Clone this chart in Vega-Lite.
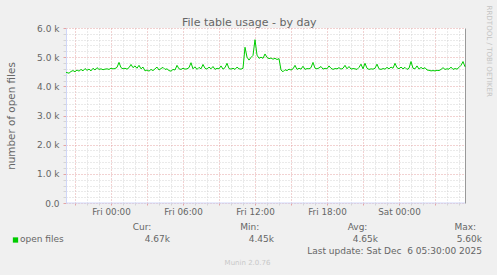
{
  "$schema": "https://vega.github.io/schema/vega-lite/v6.json",
  "background": "#f0f0f0",
  "padding": {"left": 6, "top": 4, "right": 10, "bottom": 10},
  "config": {"view": {"stroke": null}, "font": "DejaVu Sans"},
  "title": {"text": "File table usage - by day", "font": "DejaVu Sans", "fontSize": 11, "fontWeight": "normal", "color": "#666666", "anchor": "middle", "frame": "bounds", "offset": -23},
  "datasets": {
    "files": [
      {"t": "2025-12-04T20:15", "v": 4480}, {"t": "2025-12-04T20:20", "v": 4470}, {"t": "2025-12-04T20:30", "v": 4450}, {"t": "2025-12-04T20:40", "v": 4510}, {"t": "2025-12-04T20:50", "v": 4540},
      {"t": "2025-12-04T21:00", "v": 4500}, {"t": "2025-12-04T21:10", "v": 4560}, {"t": "2025-12-04T21:20", "v": 4520}, {"t": "2025-12-04T21:30", "v": 4580}, {"t": "2025-12-04T21:40", "v": 4530}, {"t": "2025-12-04T21:50", "v": 4610},
      {"t": "2025-12-04T22:00", "v": 4550}, {"t": "2025-12-04T22:10", "v": 4590}, {"t": "2025-12-04T22:20", "v": 4530}, {"t": "2025-12-04T22:30", "v": 4620}, {"t": "2025-12-04T22:40", "v": 4560}, {"t": "2025-12-04T22:50", "v": 4640},
      {"t": "2025-12-04T23:00", "v": 4580}, {"t": "2025-12-04T23:10", "v": 4600}, {"t": "2025-12-04T23:20", "v": 4570}, {"t": "2025-12-04T23:30", "v": 4590}, {"t": "2025-12-04T23:40", "v": 4600}, {"t": "2025-12-04T23:50", "v": 4580},
      {"t": "2025-12-05T00:00", "v": 4620}, {"t": "2025-12-05T00:10", "v": 4600}, {"t": "2025-12-05T00:20", "v": 4610}, {"t": "2025-12-05T00:30", "v": 4650}, {"t": "2025-12-05T00:40", "v": 4820}, {"t": "2025-12-05T00:50", "v": 4640},
      {"t": "2025-12-05T01:00", "v": 4600}, {"t": "2025-12-05T01:10", "v": 4620}, {"t": "2025-12-05T01:20", "v": 4590}, {"t": "2025-12-05T01:30", "v": 4640}, {"t": "2025-12-05T01:40", "v": 4750}, {"t": "2025-12-05T01:50", "v": 4640},
      {"t": "2025-12-05T02:00", "v": 4700}, {"t": "2025-12-05T02:10", "v": 4620}, {"t": "2025-12-05T02:20", "v": 4720}, {"t": "2025-12-05T02:30", "v": 4600}, {"t": "2025-12-05T02:40", "v": 4660}, {"t": "2025-12-05T02:50", "v": 4530},
      {"t": "2025-12-05T03:00", "v": 4560}, {"t": "2025-12-05T03:10", "v": 4520}, {"t": "2025-12-05T03:20", "v": 4580}, {"t": "2025-12-05T03:30", "v": 4540}, {"t": "2025-12-05T03:40", "v": 4600}, {"t": "2025-12-05T03:50", "v": 4660},
      {"t": "2025-12-05T04:00", "v": 4560}, {"t": "2025-12-05T04:10", "v": 4610}, {"t": "2025-12-05T04:20", "v": 4650}, {"t": "2025-12-05T04:30", "v": 4580}, {"t": "2025-12-05T04:40", "v": 4600}, {"t": "2025-12-05T04:50", "v": 4540},
      {"t": "2025-12-05T05:00", "v": 4520}, {"t": "2025-12-05T05:10", "v": 4580}, {"t": "2025-12-05T05:20", "v": 4560}, {"t": "2025-12-05T05:30", "v": 4720}, {"t": "2025-12-05T05:40", "v": 4600}, {"t": "2025-12-05T05:50", "v": 4580},
      {"t": "2025-12-05T06:00", "v": 4620}, {"t": "2025-12-05T06:10", "v": 4590}, {"t": "2025-12-05T06:20", "v": 4600}, {"t": "2025-12-05T06:30", "v": 4640}, {"t": "2025-12-05T06:40", "v": 4810}, {"t": "2025-12-05T06:50", "v": 4600},
      {"t": "2025-12-05T07:00", "v": 4670}, {"t": "2025-12-05T07:10", "v": 4580}, {"t": "2025-12-05T07:20", "v": 4650}, {"t": "2025-12-05T07:30", "v": 4600}, {"t": "2025-12-05T07:40", "v": 4750}, {"t": "2025-12-05T07:50", "v": 4620},
      {"t": "2025-12-05T08:00", "v": 4590}, {"t": "2025-12-05T08:10", "v": 4660}, {"t": "2025-12-05T08:20", "v": 4600}, {"t": "2025-12-05T08:30", "v": 4680}, {"t": "2025-12-05T08:40", "v": 4580}, {"t": "2025-12-05T08:50", "v": 4620},
      {"t": "2025-12-05T09:00", "v": 4600}, {"t": "2025-12-05T09:10", "v": 4700}, {"t": "2025-12-05T09:20", "v": 4590}, {"t": "2025-12-05T09:30", "v": 4640}, {"t": "2025-12-05T09:40", "v": 4790}, {"t": "2025-12-05T09:50", "v": 4610},
      {"t": "2025-12-05T10:00", "v": 4590}, {"t": "2025-12-05T10:10", "v": 4620}, {"t": "2025-12-05T10:20", "v": 4580}, {"t": "2025-12-05T10:30", "v": 4660}, {"t": "2025-12-05T10:40", "v": 4600}, {"t": "2025-12-05T10:50", "v": 4590},
      {"t": "2025-12-05T11:00", "v": 4620}, {"t": "2025-12-05T11:10", "v": 5340}, {"t": "2025-12-05T11:20", "v": 5000}, {"t": "2025-12-05T11:30", "v": 4900}, {"t": "2025-12-05T11:40", "v": 4990}, {"t": "2025-12-05T11:50", "v": 5060},
      {"t": "2025-12-05T12:00", "v": 5600}, {"t": "2025-12-05T12:10", "v": 5070}, {"t": "2025-12-05T12:20", "v": 4960}, {"t": "2025-12-05T12:30", "v": 5000}, {"t": "2025-12-05T12:40", "v": 4960}, {"t": "2025-12-05T12:50", "v": 5110},
      {"t": "2025-12-05T13:00", "v": 4990}, {"t": "2025-12-05T13:10", "v": 4950}, {"t": "2025-12-05T13:20", "v": 4970}, {"t": "2025-12-05T13:30", "v": 4930}, {"t": "2025-12-05T13:40", "v": 4960}, {"t": "2025-12-05T13:50", "v": 4920},
      {"t": "2025-12-05T14:00", "v": 4950}, {"t": "2025-12-05T14:10", "v": 4560}, {"t": "2025-12-05T14:20", "v": 4500}, {"t": "2025-12-05T14:30", "v": 4570}, {"t": "2025-12-05T14:40", "v": 4540}, {"t": "2025-12-05T14:50", "v": 4590},
      {"t": "2025-12-05T15:00", "v": 4560}, {"t": "2025-12-05T15:10", "v": 4600}, {"t": "2025-12-05T15:20", "v": 4720}, {"t": "2025-12-05T15:30", "v": 4580}, {"t": "2025-12-05T15:40", "v": 4620}, {"t": "2025-12-05T15:50", "v": 4590},
      {"t": "2025-12-05T16:00", "v": 4690}, {"t": "2025-12-05T16:10", "v": 4580}, {"t": "2025-12-05T16:20", "v": 4610}, {"t": "2025-12-05T16:30", "v": 4600}, {"t": "2025-12-05T16:40", "v": 4640}, {"t": "2025-12-05T16:50", "v": 4820},
      {"t": "2025-12-05T17:00", "v": 4620}, {"t": "2025-12-05T17:10", "v": 4600}, {"t": "2025-12-05T17:20", "v": 4630}, {"t": "2025-12-05T17:30", "v": 4680}, {"t": "2025-12-05T17:40", "v": 4590}, {"t": "2025-12-05T17:50", "v": 4620},
      {"t": "2025-12-05T18:00", "v": 4600}, {"t": "2025-12-05T18:10", "v": 4700}, {"t": "2025-12-05T18:20", "v": 4620}, {"t": "2025-12-05T18:30", "v": 4580}, {"t": "2025-12-05T18:40", "v": 4610}, {"t": "2025-12-05T18:50", "v": 4600},
      {"t": "2025-12-05T19:00", "v": 4640}, {"t": "2025-12-05T19:10", "v": 4590}, {"t": "2025-12-05T19:20", "v": 4620}, {"t": "2025-12-05T19:30", "v": 4720}, {"t": "2025-12-05T19:40", "v": 4600}, {"t": "2025-12-05T19:50", "v": 4680},
      {"t": "2025-12-05T20:00", "v": 4590}, {"t": "2025-12-05T20:10", "v": 4610}, {"t": "2025-12-05T20:20", "v": 4600}, {"t": "2025-12-05T20:30", "v": 4580}, {"t": "2025-12-05T20:40", "v": 4650}, {"t": "2025-12-05T20:50", "v": 4760},
      {"t": "2025-12-05T21:00", "v": 4600}, {"t": "2025-12-05T21:10", "v": 4790}, {"t": "2025-12-05T21:20", "v": 4620}, {"t": "2025-12-05T21:30", "v": 4580}, {"t": "2025-12-05T21:40", "v": 4600}, {"t": "2025-12-05T21:50", "v": 4590},
      {"t": "2025-12-05T22:00", "v": 4620}, {"t": "2025-12-05T22:10", "v": 4760}, {"t": "2025-12-05T22:20", "v": 4600}, {"t": "2025-12-05T22:30", "v": 4580}, {"t": "2025-12-05T22:40", "v": 4610}, {"t": "2025-12-05T22:50", "v": 4590},
      {"t": "2025-12-05T23:00", "v": 4650}, {"t": "2025-12-05T23:10", "v": 4600}, {"t": "2025-12-05T23:20", "v": 4660}, {"t": "2025-12-05T23:30", "v": 4620}, {"t": "2025-12-05T23:40", "v": 4790}, {"t": "2025-12-05T23:50", "v": 4640},
      {"t": "2025-12-06T00:00", "v": 4600}, {"t": "2025-12-06T00:10", "v": 4660}, {"t": "2025-12-06T00:20", "v": 4600}, {"t": "2025-12-06T00:30", "v": 4650}, {"t": "2025-12-06T00:40", "v": 4580}, {"t": "2025-12-06T00:50", "v": 4620},
      {"t": "2025-12-06T01:00", "v": 4850}, {"t": "2025-12-06T01:10", "v": 4620}, {"t": "2025-12-06T01:20", "v": 4600}, {"t": "2025-12-06T01:30", "v": 4700}, {"t": "2025-12-06T01:40", "v": 4590}, {"t": "2025-12-06T01:50", "v": 4650},
      {"t": "2025-12-06T02:00", "v": 4600}, {"t": "2025-12-06T02:10", "v": 4640}, {"t": "2025-12-06T02:20", "v": 4560}, {"t": "2025-12-06T02:30", "v": 4550}, {"t": "2025-12-06T02:40", "v": 4530}, {"t": "2025-12-06T02:50", "v": 4540},
      {"t": "2025-12-06T03:00", "v": 4530}, {"t": "2025-12-06T03:10", "v": 4550}, {"t": "2025-12-06T03:20", "v": 4540}, {"t": "2025-12-06T03:30", "v": 4580}, {"t": "2025-12-06T03:40", "v": 4640}, {"t": "2025-12-06T03:50", "v": 4580},
      {"t": "2025-12-06T04:00", "v": 4600}, {"t": "2025-12-06T04:10", "v": 4590}, {"t": "2025-12-06T04:20", "v": 4660}, {"t": "2025-12-06T04:30", "v": 4580}, {"t": "2025-12-06T04:40", "v": 4610}, {"t": "2025-12-06T04:50", "v": 4590},
      {"t": "2025-12-06T05:00", "v": 4650}, {"t": "2025-12-06T05:10", "v": 4720}, {"t": "2025-12-06T05:20", "v": 4850}, {"t": "2025-12-06T05:30", "v": 4670}
    ],
    "footer": [
      {"role": "label", "col": "label", "row": "v", "text": "open files"},
      {"role": "head", "col": "Cur", "row": "h", "text": "Cur:"},
      {"role": "head", "col": "Min", "row": "h", "text": "Min:"},
      {"role": "head", "col": "Avg", "row": "h", "text": "Avg:"},
      {"role": "head", "col": "Max", "row": "h", "text": "Max:"},
      {"role": "value", "col": "Cur", "row": "v", "text": "4.67k"},
      {"role": "value", "col": "Min", "row": "v", "text": "4.45k"},
      {"role": "value", "col": "Avg", "row": "v", "text": "4.65k"},
      {"role": "value", "col": "Max", "row": "v", "text": "5.60k"},
      {"role": "update", "col": "Max", "row": "u", "text": "Last update: Sat Dec \u00a06 05:30:00 2025"},
      {"role": "munin", "col": "Cur", "row": "m", "text": "Munin 2.0.76"}
    ]
  },
  "vconcat": [
    {
      "width": 399,
      "height": 175,
      "view": {"fill": "#ffffff", "stroke": null},
      "layer": [
        {
          "data": {"name": "files"},
          "mark": {"type": "line", "color": "#00cc00", "strokeWidth": 1},
          "encoding": {
            "x": {
              "field": "t", "type": "temporal",
              "scale": {"nice": false},
              "axis": {
                "orient": "bottom",
                "tickCount": 33,
                "grid": true,
                "gridColor": {"condition": {"test": "hours(datum.value) % 3 == 0", "value": "#e4a4a4"}, "value": "#d4d4d4"},
                "gridDash": [1, 2],
                "ticks": true,
                "tickSize": 2,
                "tickColor": {"condition": {"test": "hours(datum.value) % 3 == 0", "value": "#e4a4a4"}, "value": "#d4d4d4"},
                "domain": false,
                "labelExpr": "hours(datum.value) % 6 == 0 ? timeFormat(datum.value, '%a %H:%M') : ''",
                "labelFont": "DejaVu Sans", "labelFontSize": 8.8, "labelColor": "#666666", "labelPadding": 2,
                "labelOverlap": false, "labelFlush": false, "labelBound": false,
                "title": null
              }
            },
            "y": {
              "field": "v", "type": "quantitative",
              "scale": {"domain": [0, 6000], "nice": false},
              "axis": {
                "orient": "left",
                "values": [0, 200, 400, 600, 800, 1000, 1200, 1400, 1600, 1800, 2000, 2200, 2400, 2600, 2800, 3000, 3200, 3400, 3600, 3800, 4000, 4200, 4400, 4600, 4800, 5000, 5200, 5400, 5600, 5800, 6000],
                "grid": true,
                "gridColor": {"condition": {"test": "datum.value % 1000 == 0", "value": "#e4a4a4"}, "value": "#d4d4d4"},
                "gridDash": [1, 2],
                "ticks": true,
                "tickSize": 3,
                "tickColor": {"condition": {"test": "datum.value % 1000 == 0", "value": "#e4a4a4"}, "value": "#d4d4d4"},
                "domainColor": "#cfd6f8",
                "labelExpr": "datum.value % 1000 != 0 ? '' : (datum.value == 0 ? '0.0' : format(datum.value / 1000, '.1f') + ' k')",
                "labelFont": "DejaVu Sans", "labelFontSize": 9, "labelColor": "#666666", "labelPadding": 4,
                "labelOverlap": false, "labelFlush": false,
                "title": "number of open files", "titleFont": "DejaVu Sans", "titleFontSize": 10.4, "titleFontWeight": "normal", "titleColor": "#666666", "titlePadding": 20
              }
            }
          }
        },
        {
          "data": {"values": [{"k": 1}]},
          "mark": {"type": "rule", "color": "#cfd6f8", "strokeWidth": 1},
          "encoding": {
            "y": {
              "datum": 0, "type": "quantitative",
              "axis": {
                "orient": "right", "domain": true, "domainColor": "#999999", "ticks": false, "labels": false, "grid": false,
                "title": "RRDTOOL / TOBI OETIKER", "titleFont": "DejaVu Sans", "titleFontSize": 7.1, "titleFontWeight": "normal", "titleColor": "#c4c4c4",
                "titleAngle": 90, "titleAlign": "left", "titleY": -23, "titlePadding": 20
              }
            }
          }
        }
      ],
      "resolve": {"axis": {"y": "independent"}}
    },
    {
      "width": 416,
      "height": 36,
      "view": {"fill": null, "stroke": null},
      "data": {"name": "footer"},
      "layer": [
        {
          "transform": [{"filter": "datum.role == 'label'"}],
          "mark": {"type": "square", "color": "#00cc00", "filled": true, "opacity": 1, "size": 28, "xOffset": -50.5, "yOffset": 1},
          "encoding": {
            "x": {"field": "col", "type": "nominal", "scale": {"type": "point", "domain": ["label", "Cur", "Min", "Avg", "Max"], "padding": 0}, "axis": null},
            "y": {"field": "row", "type": "nominal", "scale": {"type": "point", "domain": ["h", "v", "u", "m"], "padding": 0}, "axis": null}
          }
        },
        {
          "transform": [{"filter": "datum.role == 'label'"}],
          "mark": {"type": "text", "align": "left", "baseline": "middle", "dx": -46, "font": "DejaVu Sans", "fontSize": 9, "color": "#666666"},
          "encoding": {
            "x": {"field": "col", "type": "nominal", "scale": {"type": "point", "domain": ["label", "Cur", "Min", "Avg", "Max"], "padding": 0}, "axis": null},
            "y": {"field": "row", "type": "nominal", "scale": {"type": "point", "domain": ["h", "v", "u", "m"], "padding": 0}, "axis": null},
            "text": {"field": "text"}
          }
        },
        {
          "transform": [{"filter": "datum.role == 'value' || datum.role == 'update'"}],
          "mark": {"type": "text", "align": "right", "baseline": "middle", "font": "DejaVu Sans", "fontSize": 9, "color": "#666666"},
          "encoding": {
            "x": {"field": "col", "type": "nominal", "scale": {"type": "point", "domain": ["label", "Cur", "Min", "Avg", "Max"], "padding": 0}, "axis": null},
            "y": {"field": "row", "type": "nominal", "scale": {"type": "point", "domain": ["h", "v", "u", "m"], "padding": 0}, "axis": null},
            "text": {"field": "text"}
          }
        },
        {
          "transform": [{"filter": "datum.role == 'head'"}],
          "mark": {"type": "text", "align": "center", "baseline": "middle", "font": "DejaVu Sans", "fontSize": 9, "color": "#666666"},
          "encoding": {
            "x": {"field": "col", "type": "nominal", "scale": {"type": "point", "domain": ["Cur", "Min", "Avg", "Max"], "padding": 0.43, "align": 0.82}, "axis": null},
            "y": {"field": "row", "type": "nominal", "scale": {"type": "point", "domain": ["h", "v", "u", "m"], "padding": 0}, "axis": null},
            "text": {"field": "text"}
          }
        },
        {
          "transform": [{"filter": "datum.role == 'munin'"}],
          "mark": {"type": "text", "align": "center", "baseline": "middle", "dx": -26.5, "font": "DejaVu Sans", "fontSize": 7, "color": "#c8c8c8"},
          "encoding": {
            "y": {"field": "row", "type": "nominal", "scale": {"type": "point", "domain": ["h", "v", "u", "m"], "padding": 0}, "axis": null},
            "text": {"field": "text"}
          }
        }
      ],
      "resolve": {"scale": {"x": "independent"}}
    }
  ],
  "spacing": 24,
  "bounds": "flush"
}
